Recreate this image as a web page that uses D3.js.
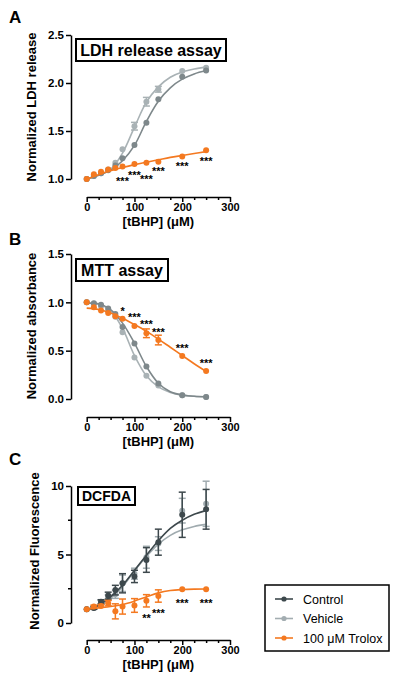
<!DOCTYPE html>
<html><head><meta charset="utf-8">
<script src="https://cdn.jsdelivr.net/npm/d3@7"></script>
<style>body{margin:0;background:#fff} text{font-family:"Liberation Sans",Arial,Helvetica,sans-serif}</style>
</head><body><svg id="c" width="400" height="688"></svg>
<script>
// ---- data ----
const doses = [0, 15, 30, 45, 60, 75, 100, 125, 150, 200, 250];
const fitX  = [0, 25, 50, 75, 100, 125, 150, 175, 200, 225, 250];
const xTicks = [0, 100, 200, 300];

// Panel A: LDH release
const ldhControl = [1.0, 1.03, 1.06, 1.09, 1.14, 1.215, 1.355, 1.585, 1.83, 2.065, 2.13];
const ldhVehicle = [1.0, 1.03, 1.06, 1.10, 1.17, 1.31, 1.55, 1.805, 1.935, 2.125, 2.16];
const ldhTrolox  = [1.0, 1.05, 1.075, 1.10, 1.115, 1.13, 1.155, 1.17, 1.18, 1.235, 1.30];
const ldhVehicleErr = [0, 0, 0, 0, 0, 0, 0.04, 0.045, 0.03, 0, 0];
const ldhFitControl = [1.0, 1.04, 1.09, 1.19, 1.35, 1.60, 1.81, 1.95, 2.04, 2.095, 2.13];
const ldhFitVehicle = [1.0, 1.04, 1.10, 1.27, 1.54, 1.80, 1.96, 2.06, 2.115, 2.145, 2.165];
const ldhFitTrolox  = [1.0, 1.045, 1.085, 1.12, 1.15, 1.175, 1.20, 1.225, 1.245, 1.265, 1.285];
const ldhStarX = [75, 100, 125, 150, 200, 250];
const ldhStarY = [1.0, 1.066, 1.025, 1.11, 1.156, 1.215];
const ldhStars = ["***", "***", "***", "***", "***", "***"];
const ldhYTicks = [1.0, 1.5, 2.0, 2.5];

// Panel B: MTT
const mttControl = [1.0, 0.99, 0.975, 0.935, 0.88, 0.745, 0.575, 0.335, 0.16, 0.04, 0.02];
const mttVehicle = [1.0, 0.985, 0.96, 0.91, 0.85, 0.69, 0.43, 0.24, 0.14, 0.04, 0.02];
const mttTrolox  = [1.0, 0.95, 0.915, 0.89, 0.855, 0.83, 0.755, 0.68, 0.61, 0.445, 0.29];
const mttTroloxErr = [0, 0, 0, 0, 0, 0, 0, 0.045, 0.05, 0, 0];
const mttFitControl = [0.99, 0.985, 0.925, 0.785, 0.578, 0.336, 0.163, 0.076, 0.042, 0.028, 0.024];
const mttFitVehicle = [0.99, 0.98, 0.915, 0.73, 0.45, 0.24, 0.125, 0.068, 0.04, 0.028, 0.022];
const mttFitTrolox  = [0.94, 0.925, 0.89, 0.835, 0.77, 0.70, 0.62, 0.535, 0.45, 0.365, 0.285];
const mttStarX = [75, 100, 125, 150, 200, 250];
const mttStarY = [0.938, 0.876, 0.80, 0.714, 0.55, 0.393];
const mttStars = ["*", "***", "***", "***", "***", "***"];
const mttYTicks = [0.0, 0.5, 1.0, 1.5];

// Panel C: DCFDA
const dcfControl = [1.0, 1.1, 1.55, 2.0, 2.4, 2.9, 3.4, 4.6, 5.9, 7.9, 8.3];
const dcfVehicle = [1.0, 1.1, 1.5, 1.85, 2.1, 2.9, 3.6, 4.8, 5.8, 8.2, 8.7];
const dcfTrolox  = [1.0, 1.2, 1.25, 1.45, 0.85, 1.2, 1.28, 1.62, 1.97, 2.47, 2.47];
const dcfControlErr = [0, 0.1, 0.15, 0.25, 0.35, 0.7, 0.45, 0.9, 0.95, 1.65, 1.45];
const dcfVehicleErr = [0, 0.1, 0.15, 0.2, 0.3, 0.6, 0.4, 0.8, 0.5, 0.9, 1.65];
const dcfTroloxErr  = [0, 0.1, 0.1, 0.2, 0.55, 0.55, 0.5, 0.45, 0.45, 0, 0];
const dcfFitControl = [0.97, 1.3, 1.9, 2.75, 3.84, 4.94, 6.0, 6.9, 7.5, 7.93, 8.22];
const dcfFitVehicle = [0.97, 1.25, 1.8, 2.65, 3.8, 4.85, 5.75, 6.4, 6.8, 7.05, 7.2];
const dcfFitTrolox  = [1.0, 1.1, 1.2, 1.35, 1.6, 1.9, 2.2, 2.37, 2.44, 2.47, 2.48];
const dcfStarX = [125, 150, 200, 250];
const dcfStarY = [0.51, 0.876, 1.6, 1.63];
const dcfStars = ["**", "***", "***", "***"];
const dcfYTicks = [0, 5, 10];
const dcfYMinor = [2.5, 7.5];

const legendLabels = ["Control", "Vehicle", "100 \u03bcM Trolox"];
const legendColors = ["#3d484c", "#a3adb1", "#f47920"];

// ---- drawing ----
const svg = d3.select("#c");
const FONT = '"Liberation Sans",Arial,Helvetica,sans-serif';
const ORANGE = "#f47920";
const x = d3.scaleLinear().domain([0, 300]).range([86.7, 230]);

function styleAxis(a, fs) {
  a.select(".domain").attr("stroke", "#000").attr("stroke-width", 1.5);
  a.selectAll(".tick line").attr("stroke", "#000").attr("stroke-width", 1.5);
  a.selectAll(".tick text").attr("fill", "#000").attr("font-size", fs).attr("font-weight", "bold").attr("font-family", FONT);
}

function panel(p) {
  const y = d3.scaleLinear().domain(p.yDomain).range(p.yRange);
  const g = svg.append("g");
  // y axis
  const ya = g.append("g").attr("transform", "translate(71,0)")
    .call(d3.axisLeft(y).tickValues(p.yTicks).tickFormat(p.fmt).tickSize(5).tickPadding(2).tickSizeOuter(0));
  styleAxis(ya, 11.5);
  if (p.yMinor) {
    g.append("g").attr("transform", "translate(71,0)")
      .selectAll("line").data(p.yMinor).join("line")
      .attr("x1", -3).attr("x2", 0).attr("y1", d => y(d)).attr("y2", d => y(d))
      .attr("stroke", "#000").attr("stroke-width", 1.5);
  }
  // x axis
  const xa = g.append("g").attr("transform", `translate(0,${p.xAxisY})`)
    .call(d3.axisBottom(x).tickValues(d3.range(0, 301, 25))
      .tickFormat(d => xTicks.includes(d) ? d : "").tickSize(5).tickPadding(1).tickSizeOuter(0));
  styleAxis(xa, 11);
  xa.selectAll(".tick").filter(d => !xTicks.includes(d)).select("line").attr("y2", 3);
  g.append("text").attr("x", x(150)).attr("y", p.xAxisY + 29).attr("text-anchor", "middle")
    .attr("font-size", 13).attr("font-weight", "bold").text("[tBHP] (\u03bcM)");
  // y title
  g.append("text").attr("transform", `translate(${p.yTitleX},${p.yTitleY}) rotate(-90)`)
    .attr("text-anchor", "middle").attr("font-size", 13).attr("font-weight", "bold").text(p.yTitle);
  // letter
  g.append("text").attr("x", 9).attr("y", p.letterY).attr("font-size", 17).attr("font-weight", "bold").text(p.letter);
  // title box
  g.append("rect").attr("x", p.box[0]).attr("y", p.box[1]).attr("width", p.box[2]).attr("height", p.box[3])
    .attr("fill", "#fff").attr("stroke", "#000").attr("stroke-width", 2);
  g.append("text").attr("x", p.box[0] + p.box[2] / 2).attr("y", p.box[1] + p.box[3] / 2 + p.boxFont * 0.36)
    .attr("text-anchor", "middle").attr("font-size", p.boxFont).attr("font-weight", "bold").text(p.title);

  const line = d3.line().x(d => x(d[0])).y(d => y(d[1])).curve(d3.curveCatmullRom.alpha(0.5));
  p.series.forEach(s => {
    const sg = g.append("g");
    sg.append("path").attr("d", line(fitX.map((v, i) => [v, s.fit[i]])))
      .attr("fill", "none").attr("stroke", s.color).attr("stroke-width", 1.6);
    const pts = doses.map((d, i) => ({ d, v: s.vals[i], e: s.err ? s.err[i] : 0 }));
    const eb = sg.selectAll(".eb").data(pts.filter(q => q.e > 0)).join("g");
    eb.append("line").attr("x1", q => x(q.d)).attr("x2", q => x(q.d))
      .attr("y1", q => y(q.v - q.e)).attr("y2", q => y(q.v + q.e)).attr("stroke", s.color).attr("stroke-width", 1.5);
    [-1, 1].forEach(sg2 => {
      eb.append("line").attr("x1", q => x(q.d) - 3.5).attr("x2", q => x(q.d) + 3.5)
        .attr("y1", q => y(q.v + sg2 * q.e)).attr("y2", q => y(q.v + sg2 * q.e))
        .attr("stroke", s.color).attr("stroke-width", 1.5);
    });
    sg.selectAll("circle").data(pts).join("circle")
      .attr("cx", q => x(q.d)).attr("cy", q => y(q.v)).attr("r", 3).attr("fill", s.color);
  });
  g.selectAll(".star").data(p.starX.map((d, i) => ({ d, v: p.starY[i], t: p.stars[i] }))).join("text")
    .attr("x", q => x(q.d)).attr("y", q => y(q.v) + 6.3).attr("text-anchor", "middle")
    .attr("font-size", 11).attr("font-weight", "bold").text(q => q.t);
}

panel({
  letter: "A", letterY: 23, title: "LDH release assay", box: [76, 39, 150, 22], boxFont: 16,
  yDomain: [1.0, 2.5], yRange: [179, 35], yTicks: ldhYTicks, fmt: d3.format(".1f"),
  xAxisY: 197, yTitle: "Normalized LDH release", yTitleX: 36, yTitleY: 107,
  starX: ldhStarX, starY: ldhStarY, stars: ldhStars,
  series: [
    { vals: ldhVehicle, err: ldhVehicleErr, fit: ldhFitVehicle, color: "#a9b2b5" },
    { vals: ldhControl, fit: ldhFitControl, color: "#7e888b" },
    { vals: ldhTrolox, fit: ldhFitTrolox, color: ORANGE }
  ]
});
panel({
  letter: "B", letterY: 245, title: "MTT assay", box: [76, 259, 92, 22], boxFont: 16,
  yDomain: [0, 1.5], yRange: [399, 254], yTicks: mttYTicks, fmt: d3.format(".1f"),
  xAxisY: 417, yTitle: "Normalized absorbance", yTitleX: 36, yTitleY: 326,
  starX: mttStarX, starY: mttStarY, stars: mttStars,
  series: [
    { vals: mttVehicle, fit: mttFitVehicle, color: "#a9b2b5" },
    { vals: mttControl, fit: mttFitControl, color: "#7e888b" },
    { vals: mttTrolox, err: mttTroloxErr, fit: mttFitTrolox, color: ORANGE }
  ]
});
panel({
  letter: "C", letterY: 465, title: "DCFDA", box: [78, 487, 57, 18], boxFont: 14,
  yDomain: [0, 10], yRange: [623, 486], yTicks: dcfYTicks, yMinor: dcfYMinor, fmt: d3.format("d"),
  xAxisY: 640, yTitle: "Normalized Fluorescence", yTitleX: 39, yTitleY: 551,
  starX: dcfStarX, starY: dcfStarY, stars: dcfStars,
  series: [
    { vals: dcfVehicle, err: dcfVehicleErr, fit: dcfFitVehicle, color: "#a0abaf" },
    { vals: dcfControl, err: dcfControlErr, fit: dcfFitControl, color: "#3d484c" },
    { vals: dcfTrolox, err: dcfTroloxErr, fit: dcfFitTrolox, color: ORANGE }
  ]
});

// legend
const lg = svg.append("g");
lg.append("rect").attr("x", 265).attr("y", 585).attr("width", 124).attr("height", 66)
  .attr("fill", "#fff").attr("stroke", "#000").attr("stroke-width", 1.5);
legendLabels.forEach((t, i) => {
  const yy = 599 + i * 19.5;
  lg.append("line").attr("x1", 275).attr("x2", 293).attr("y1", yy).attr("y2", yy)
    .attr("stroke", legendColors[i]).attr("stroke-width", 1.6);
  lg.append("circle").attr("cx", 284).attr("cy", yy).attr("r", 2.6).attr("fill", legendColors[i]);
  lg.append("text").attr("x", 303).attr("y", yy + 4.5).attr("font-size", 12.5).text(t);
});
</script></body></html>
